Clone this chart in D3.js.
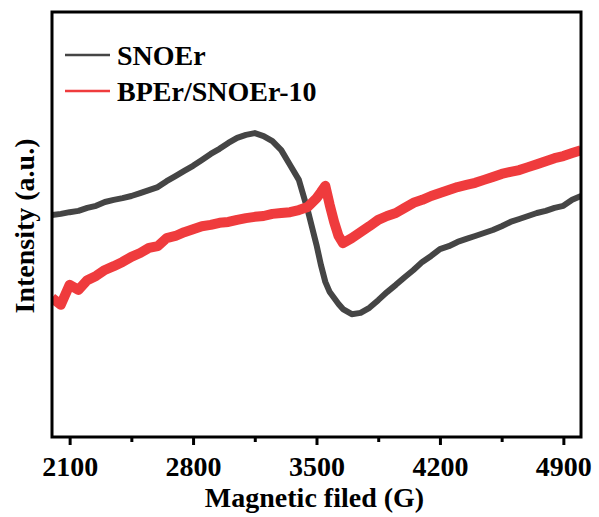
<!DOCTYPE html>
<html>
<head>
<meta charset="utf-8">
<script src="https://cdn.jsdelivr.net/npm/d3@7"></script>
<style>
  body { margin: 0; background: #fff; }
  svg { display: block; font-family: "Liberation Serif", "Times New Roman", serif; font-weight: bold; }
</style>
</head>
<body>
<svg id="chart" width="599" height="517"></svg>
<script>
// magnetic field (G)
const field = [2000, 2050, 2100, 2150, 2200, 2250, 2300, 2350, 2400, 2450, 2500, 2550, 2600, 2650, 2700,
  2750, 2800, 2850, 2900, 2950, 3000, 3050, 3100, 3150, 3200, 3250, 3300, 3350, 3400, 3450, 3500, 3525,
  3550, 3575, 3600, 3625, 3650, 3700, 3750, 3800, 3850, 3900, 3950, 4000, 4050, 4100, 4150, 4200, 4250,
  4300, 4350, 4400, 4450, 4500, 4550, 4600, 4650, 4700, 4750, 4800, 4850, 4900, 4950, 5000];

// intensity (a.u.)
const snoer = [52.2, 52.5, 52.9, 53.2, 53.9, 54.4, 55.3, 55.8, 56.2, 56.7, 57.4, 58.1, 58.8, 60.2, 61.4,
  62.6, 63.8, 65.2, 66.6, 67.8, 69.2, 70.4, 71.1, 71.5, 70.8, 69.6, 67.5, 64.0, 60.5, 53.4, 45.2, 40.5,
  36.5, 34.1, 32.7, 31.3, 30.1, 28.9, 29.2, 30.4, 32.2, 34.1, 35.8, 37.6, 39.3, 41.2, 42.6, 44.2, 44.9,
  45.9, 46.6, 47.3, 48.0, 48.7, 49.6, 50.6, 51.3, 52.0, 52.7, 53.2, 53.9, 54.4, 55.8, 56.7];

const bper = [32.7, 31.1, 35.8, 34.6, 36.9, 37.9, 39.3, 40.2, 41.2, 42.4, 43.3, 44.5, 44.9, 46.8, 47.3,
  48.2, 48.9, 49.6, 49.9, 50.4, 50.6, 51.1, 51.5, 51.8, 52.0, 52.5, 52.7, 52.9, 53.4, 54.1, 56.2, 57.6,
  59.1, 54.6, 50.6, 47.3, 45.6, 46.8, 48.2, 49.6, 51.1, 52.0, 52.7, 53.9, 55.1, 55.8, 56.7, 57.4, 58.1,
  58.8, 59.3, 59.8, 60.5, 61.2, 61.9, 62.4, 62.8, 63.5, 64.2, 64.9, 65.6, 66.1, 66.8, 67.5];

const majorTicks = [2100, 2800, 3500, 4200, 4900];
const minorTicks = [2450, 3150, 3850, 4550];

const series = [
  { name: "SNOEr", values: snoer, color: "#454545", width: 6 },
  { name: "BPEr/SNOEr-10", values: bper, color: "#ef3b3d", width: 10 },
];

const svg = d3.select("#chart");
const width = 599, height = 517;
const margin = { top: 12, right: 18, bottom: 80, left: 52 };
const innerWidth = width - margin.left - margin.right;
const innerHeight = height - margin.top - margin.bottom;

const x = d3.scaleLinear().domain([2000, 5000]).range([0, innerWidth]);
const y = d3.scaleLinear().domain([0, 100]).range([innerHeight, 0]);

const g = svg.append("g").attr("transform", `translate(${margin.left},${margin.top})`);

g.append("clipPath").attr("id", "clip")
  .append("rect").attr("width", innerWidth).attr("height", innerHeight);

const line = d3.line().x((d, i) => x(field[i])).y((d) => y(d));

g.append("g").attr("clip-path", "url(#clip)")
  .selectAll("path")
  .data(series)
  .join("path")
  .attr("d", (d) => line(d.values))
  .attr("fill", "none")
  .attr("stroke", (d) => d.color)
  .attr("stroke-width", (d) => d.width)
  .attr("stroke-linejoin", "round");

// x axis
const xAxis = g.append("g")
  .attr("transform", `translate(0,${innerHeight})`)
  .call(d3.axisBottom(x).tickValues(majorTicks).tickSize(8).tickPadding(11).tickFormat(d3.format("d")));
xAxis.select(".domain").remove();
xAxis.selectAll(".tick line").attr("stroke-width", 3);
xAxis.selectAll(".tick text")
  .attr("font-size", 28)
  .attr("font-family", "Liberation Serif, Times New Roman, serif")
  .attr("font-weight", "bold")
  .attr("fill", "#000");

const xMinor = g.append("g")
  .attr("transform", `translate(0,${innerHeight})`)
  .call(d3.axisBottom(x).tickValues(minorTicks).tickSize(5).tickFormat(""));
xMinor.select(".domain").remove();
xMinor.selectAll(".tick line").attr("stroke-width", 3);

// frame
g.append("rect")
  .attr("width", innerWidth)
  .attr("height", innerHeight)
  .attr("fill", "none")
  .attr("stroke", "#000")
  .attr("stroke-width", 3);

// axis titles
svg.append("text")
  .attr("x", margin.left + innerWidth / 2 - 2)
  .attr("y", 507)
  .attr("text-anchor", "middle")
  .attr("font-size", 28)
  .text("Magnetic filed (G)");

svg.append("text")
  .attr("transform", "translate(34,226) rotate(-90)")
  .attr("text-anchor", "middle")
  .attr("font-size", 28)
  .text("Intensity (a.u.)");

// legend
const legend = g.append("g").attr("transform", "translate(13,43)");
legend.selectAll("g")
  .data(series)
  .join("g")
  .attr("transform", (d, i) => `translate(0,${i * 36})`)
  .each(function (d) {
    const item = d3.select(this);
    item.append("line")
      .attr("x1", 0).attr("x2", 45)
      .attr("stroke", d.color)
      .attr("stroke-width", 2.5);
    item.append("text")
      .attr("x", 52)
      .attr("y", 10)
      .attr("font-size", 28)
      .text(d.name);
  });
</script>
</body>
</html>
